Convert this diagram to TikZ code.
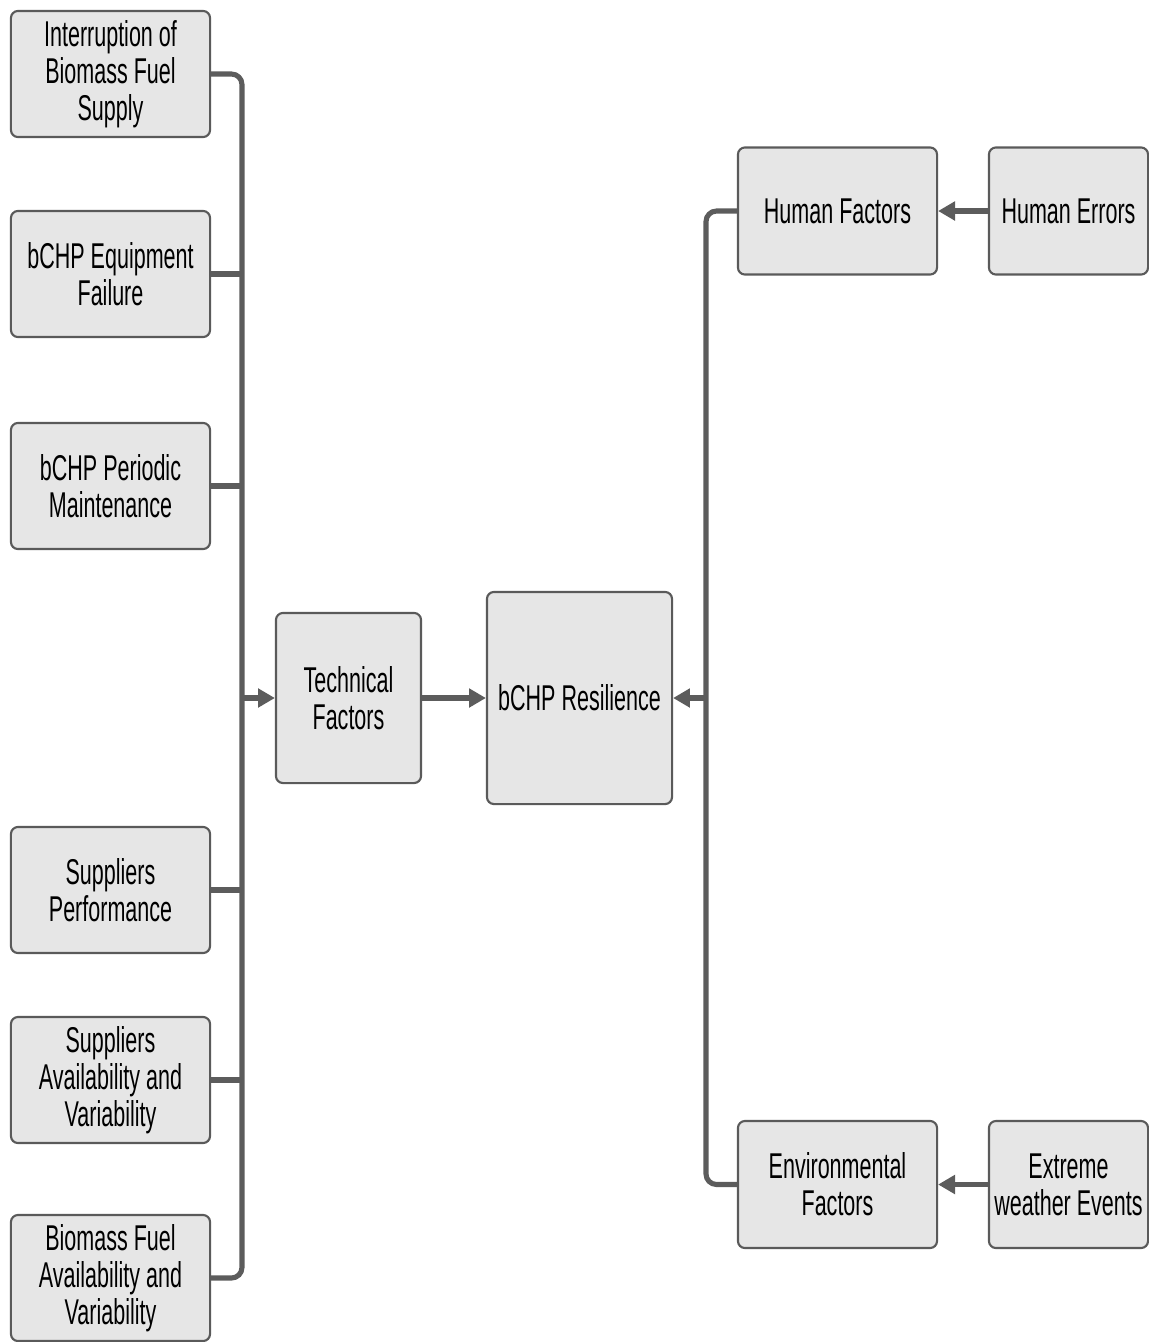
\documentclass[tikz,border=0pt]{standalone}
\usepackage{fontspec}
\setmainfont{Liberation Sans}[FakeStretch=0.60]
\usetikzlibrary{arrows.meta}

\definecolor{boxfill}{HTML}{E6E6E6}
\definecolor{boxline}{HTML}{5A5A5A}
\definecolor{wire}{HTML}{5C5C5C}

\begin{document}
\begin{tikzpicture}[x=0.01cm, y=-0.01cm,
    every node/.style={draw=boxline, fill=boxfill, line width=0.6pt, rounded corners=2pt, align=center,
        inner sep=1pt, font=\fontsize{10.2pt}{10.6pt}\selectfont},
    leaf/.style={minimum width=1.99cm, minimum height=1.26cm},
    conn/.style={draw=wire, line width=1.45pt},
    arr/.style={conn, -{Triangle[length=4.8pt, width=5.2pt]}}]
        \useasboundingbox (0,0) rectangle (1149,1342);

        % left branch
        \node[leaf] (intr) at (110.5,74) {Interruption of\\Biomass Fuel\\Supply};
        \node[leaf] (fail) at (110.5,274) {bCHP Equipment\\Failure};
        \node[leaf] (maint) at (110.5,486) {bCHP Periodic\\Maintenance};
        \node[leaf] (perf) at (110.5,890) {Suppliers\\Performance};
        \node[leaf] (savail) at (110.5,1080) {Suppliers\\Availability and\\Variability};
        \node[leaf] (bavail) at (110.5,1278) {Biomass Fuel\\Availability and\\Variability};

        \node[minimum width=1.45cm, minimum height=1.70cm] (tech) at (348.5,698) {Technical\\Factors};
        \node[minimum width=1.85cm, minimum height=2.12cm] (res) at (579.5,698) {bCHP Resilience};

        % right branch
        \node[leaf, minimum height=1.27cm] (human) at (837.5,211) {Human Factors};
        \node[leaf, minimum width=1.59cm, minimum height=1.27cm] (herr) at (1068.5,211) {Human Errors};
        \node[leaf, minimum height=1.27cm] (env) at (837.5,1184.5) {Environmental\\Factors};
        \node[leaf, minimum width=1.59cm, minimum height=1.27cm] (extr) at (1068.5,1184.5) {Extreme\\weather Events};

        \coordinate (lbus) at (242,698);
        \coordinate (rbus) at (706,698);

        \draw[conn, rounded corners=3pt] (intr.east) -| (lbus) |- (bavail.east);
        \foreach \n in {fail,maint,perf,savail}
            \draw[conn] (\n.east) -- (\n.east -| lbus);
        \draw[arr] (lbus) -- (tech);
        \draw[arr] (tech) -- (res);

        \draw[conn, rounded corners=3pt] (human.west) -| (rbus) |- (env.west);
        \draw[arr] (rbus) -- (res);
        \draw[arr] (herr) -- (human);
        \draw[arr] (extr) -- (env);
    \end{tikzpicture}
\end{document}
